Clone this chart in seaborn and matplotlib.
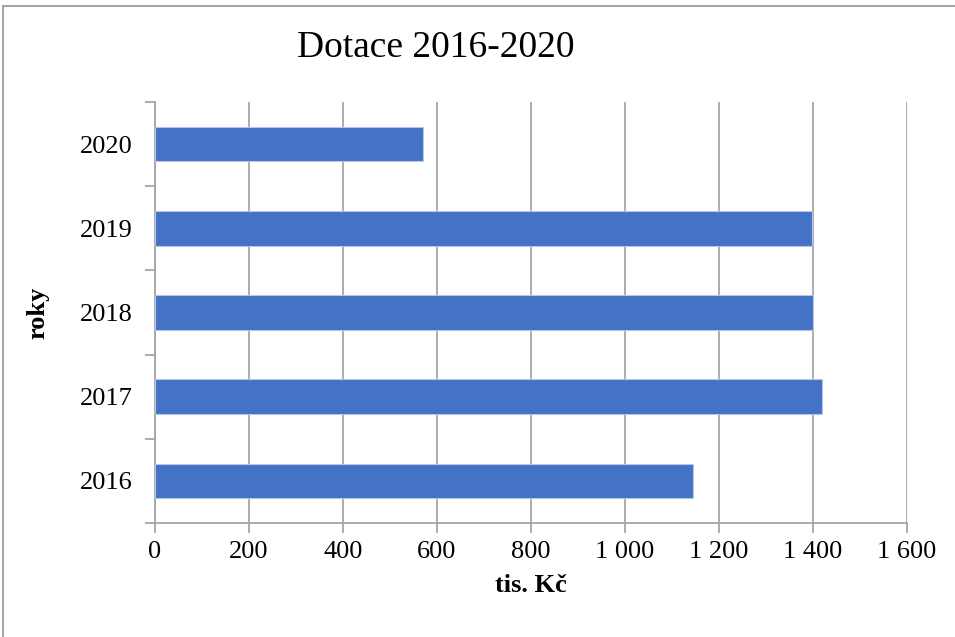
import matplotlib
matplotlib.use("Agg")
import matplotlib.pyplot as plt
import matplotlib.ticker as mticker
from matplotlib.lines import Line2D
import seaborn as sns
import pandas as pd

# data
roky = ["2020", "2019", "2018", "2017", "2016"]
dotace = [570, 1398, 1401, 1420, 1145]
x_ticks = [0, 200, 400, 600, 800, 1000, 1200, 1400, 1600]

df = pd.DataFrame({"rok": roky, "dotace": dotace})

sns.set_style("white", {"text.color": "black", "xtick.color": "black",
                        "ytick.color": "black", "axes.labelcolor": "black"})
plt.rcParams['font.family'] = ['Liberation Serif', 'DejaVu Serif']

fig = plt.figure(figsize=(9.55, 6.37), dpi=100)
ax = fig.add_axes([155/955, 1-523/637, (907-155)/955, (523-102)/637])

sns.barplot(data=df, x="dotace", y="rok", orient="h", color="#4472C4",
            saturation=1, width=0.41, edgecolor="#B4C7E7", linewidth=0.8,
            ax=ax, zorder=3)

ax.set_xlim(0, 1600)
ax.set_ylim(4.5, -0.5)
ax.set_xticks(x_ticks)
ax.xaxis.set_major_formatter(mticker.FuncFormatter(
    lambda v, p: f"{int(v):,}".replace(",", " ")))
ax.grid(axis="x", color="#A6A6A6", linewidth=1.3, zorder=0)
ax.set_axisbelow(True)

for s in ["top", "right"]:
    ax.spines[s].set_visible(False)
for s in ["left", "bottom"]:
    ax.spines[s].set_color("#A6A6A6")
    ax.spines[s].set_linewidth(1.3)

# category ticks sit between the bars
ax.set_yticks([-0.5, 0.5, 1.5, 2.5, 3.5, 4.5], minor=True)
ax.tick_params(axis="y", which="major", left=True, length=0,
               labelsize=19, pad=16, labelcolor="black")
ax.tick_params(axis="y", which="minor", left=True, length=7,
               color="#A6A6A6", width=1.3, direction="out")
ax.tick_params(axis="x", which="major", bottom=True, length=7,
               color="#A6A6A6", width=1.3, direction="out",
               labelsize=19, pad=6, labelcolor="black")

ax.set_xlabel("tis. Kč", fontsize=19, fontweight="bold", labelpad=8,
              color="black")
ax.set_ylabel("roky", fontsize=19, fontweight="bold", labelpad=22,
              color="black")

fig.text(436/955, 1-48/637, "Dotace 2016-2020", fontsize=27,
         ha="center", va="center", color="black")

# outer frame of the chart object
fig.add_artist(Line2D([3/955, 1], [1-6/637, 1-6/637], color="#A6A6A6",
                      linewidth=1.5, transform=fig.transFigure))
fig.add_artist(Line2D([3/955, 3/955], [0, 1-6/637], color="#A6A6A6",
                      linewidth=1.5, transform=fig.transFigure))

fig.savefig("out.png", dpi=100)
